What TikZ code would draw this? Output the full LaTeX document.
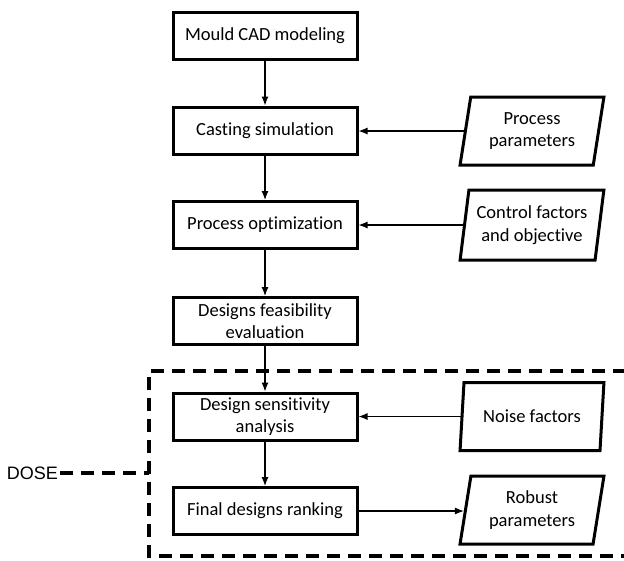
\documentclass[tikz,border=0pt]{standalone}
\usepackage{fontspec}
\setmainfont[Ligatures=NoCommon]{Carlito}
\newfontfamily\dosefont{Liberation Sans}
\usetikzlibrary{arrows.meta,shapes.geometric}
\begin{document}
\begin{tikzpicture}[x=1pt,y=-1pt,
  procbox/.style={draw,line width=3pt,minimum width=184pt,minimum height=47pt,inner sep=2pt,align=center,
    font=\fontsize{18.5}{22.5}\selectfont},
  databox/.style={draw,line width=3pt,trapezium,trapezium left angle=79,trapezium right angle=101,
    trapezium stretches=true,minimum width=144pt,minimum height=68pt,inner sep=1pt,align=center,
    font=\fontsize{18.5}{22.5}\selectfont},
  flow/.style={line width=1.2pt,-{Latex[length=9pt,width=7pt]}},
  dashline/.style={line width=3.2pt,dash pattern=on 13pt off 8pt}]
\useasboundingbox (0,0) rectangle (624,560);
\node[procbox] (b1) at (265,35.5) {Mould CAD modeling};
\node[procbox] (b2) at (265,130.5) {Casting simulation};
\node[procbox] (b3) at (265,225) {Process optimization};
\node[procbox] (b4) at (265,321) {Designs feasibility\\evaluation};
\node[procbox] (b5) at (265,416.5) {Design sensitivity\\analysis};
\node[procbox] (b6) at (265,511) {Final designs ranking};
\node[databox] (p1) at (532,131) {Process\\parameters};
\node[databox,minimum height=70pt] (p2) at (532,225) {Control factors\\and objective};
\node[databox] (p3) at (532,416.5) {Noise factors};
\node[databox] (p4) at (532,510) {Robust\\parameters};
\draw[flow] (b1) -- (b2);
\draw[flow] (b2) -- (b3);
\draw[flow] (b3) -- (b4);
\draw[flow] (b4) -- (b5);
\draw[flow] (b5) -- (b6);
\draw[flow] (p1.west) -- (p1.west -| b2.east);
\draw[flow] (p2.west) -- (p2.west -| b3.east);
\draw[flow] (p3.west) -- (p3.west -| b5.east);
\draw[flow] (b6.east) -- (b6.east -| p4.west);
\coordinate (dtr) at (626,371);
\coordinate (dtl) at (149,371);
\coordinate (dbl) at (149,556);
\coordinate (dbr) at (626,556);
\draw[dashline] (dtr) -- (dtl) -- (dbl) -- (dbr);
\node[font=\dosefont\fontsize{18}{21}\selectfont,inner sep=0pt,anchor=east] (dose) at (58,473) {DOSE};
\coordinate (dj) at (149,473);
\draw[dashline] (dose.east) ++(2,0) coordinate (ds) -- (dj);
\end{tikzpicture}
\end{document}
